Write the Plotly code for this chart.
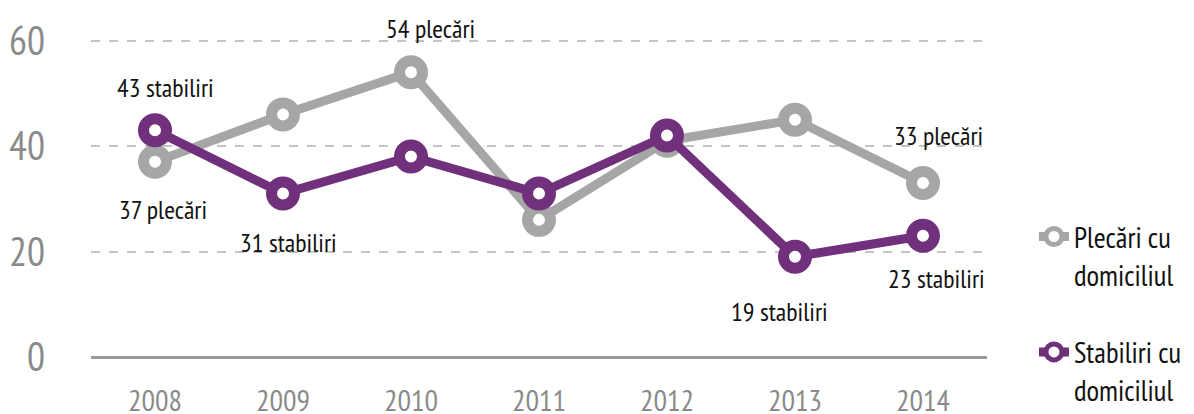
import plotly.graph_objects as go

years = ["2008", "2009", "2010", "2011", "2012", "2013", "2014"]
plecari = [37, 46, 54, 26, 41, 45, 33]
stabiliri = [43, 31, 38, 31, 42, 19, 23]
y_ticks = [0, 20, 40, 60]

# labelled points: (series, index, text, y offset px, x offset px)
labels = [
    ("s", 0, "43 stabiliri", 43, 10),
    ("p", 0, "37 plecări", -48, 8),
    ("s", 1, "31 stabiliri", -49, 5),
    ("p", 2, "54 plecări", 44, 19),
    ("s", 5, "19 stabiliri", -55, -16),
    ("p", 6, "33 plecări", 47, 15),
    ("s", 6, "23 stabiliri", -43, 13),
]

FONT = "PT Sans Narrow, Liberation Sans Narrow, Arial Narrow, sans-serif"
GRAY = "#a6a6a6"
PURPLE = "#70307b"

fig = go.Figure()
fig.add_trace(go.Scatter(
    x=years, y=plecari, mode="lines+markers", name="Plecări cu<br>domiciliul",
    line=dict(color=GRAY, width=9),
    marker=dict(size=23, color="white", line=dict(color=GRAY, width=11)),
    legendgroup="a",
))
fig.add_trace(go.Scatter(
    x=years, y=stabiliri, mode="lines+markers", name="Stabiliri cu<br>domiciliul",
    line=dict(color=PURPLE, width=9),
    marker=dict(size=23, color="white", line=dict(color=PURPLE, width=11)),
    legendgroup="b",
))

annots = []
for ser, i, txt, dy, dx in labels:
    yv = plecari[i] if ser == "p" else stabiliri[i]
    annots.append(dict(
        x=i, y=yv, xref="x", yref="y", text=txt, showarrow=False,
        yshift=dy, xshift=dx,
        font=dict(size=26, color="#111111", family=FONT),
    ))

fig.update_layout(
    width=1186, height=406,
    margin=dict(l=83, r=207, t=22, b=57, autoexpand=False),
    paper_bgcolor="white", plot_bgcolor="white",
    font=dict(family=FONT, size=20),
    showlegend=True,
    annotations=annots,
    legend=dict(
        x=1.0524, xanchor="left", y=0.446, yanchor="top",
        font=dict(size=29, color="#111111", family=FONT),
        valign="top", tracegroupgap=37,
    ),
    xaxis=dict(
        type="category", range=[-0.5, 6.5], showgrid=False, zeroline=False,
        showline=False, ticks="outside", ticklen=17, tickcolor="rgba(0,0,0,0)",
        tickfont=dict(size=30, color="#8a8a8a", family=FONT),
    ),
    yaxis=dict(
        range=[0, 62], tickvals=y_ticks, showgrid=True,
        gridcolor="#c4c4c4", griddash="dash", gridwidth=1.5,
        zeroline=True, zerolinecolor="#999999", zerolinewidth=2.5,
        showline=False, ticks="outside", ticklen=37, tickcolor="rgba(0,0,0,0)",
        tickfont=dict(size=40, color="#8a8a8a", family=FONT),
    ),
)

fig.write_html("out.html")
